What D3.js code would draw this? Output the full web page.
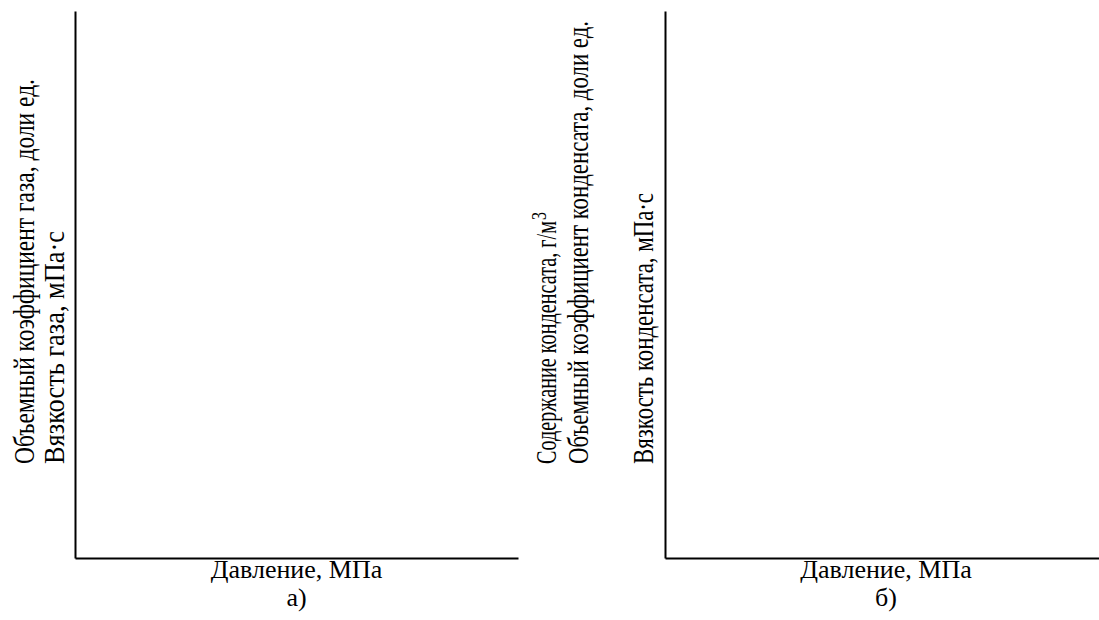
<!DOCTYPE html>
<html>
<head>
<meta charset="utf-8">
<script src="https://cdn.jsdelivr.net/npm/d3@7"></script>
<style>
  body { margin: 0; background: #fff; }
  svg { display: block; }
  .axis path { stroke: #000; stroke-width: 2; }
  text { font-family: "Liberation Serif", "DejaVu Serif", serif; fill: #000; }
</style>
</head>
<body>
<svg width="1099" height="620"></svg>
<script>
// two empty panels: a) gas, b) condensate
const panelLetters = ["а)", "б)"]
const xTitle = "Давление, МПа"
const labelsA = ["Объемный коэффициент газа, доли ед.", "Вязкость газа, мПа·с"]
const labelsB = ["Содержание конденсата, г/м", "Объемный коэффициент конденсата, доли ед.", "Вязкость конденсата, мПа·с"]
const superB = "3"

const svg = d3.select("svg")
const plotTop = 11, plotBottom = 558

// panel frames
const panels = [
  { x0: 75,  x1: 518,  labels: labelsA, base: [34, 64],       len: [385, 233] },
  { x0: 665, x1: 1099, labels: labelsB, base: [556, 588, 653], len: [243, 443, 271] }
]

panels.forEach((p, i) => {
  const x = d3.scaleLinear().domain([0, 1]).range([p.x0, p.x1])
  const y = d3.scaleLinear().domain([0, 1]).range([plotBottom, plotTop])

  svg.append("g").attr("class", "axis")
    .attr("transform", `translate(0,${plotBottom})`)
    .call(d3.axisBottom(x).tickValues([]).tickSizeOuter(0))
  svg.append("g").attr("class", "axis")
    .attr("transform", `translate(${p.x0},0)`)
    .call(d3.axisLeft(y).tickValues([]).tickSizeOuter(0))

  const cx = (p.x0 + p.x1) / 2 + (i ? 4 : 0)
  svg.append("text")
    .attr("x", cx).attr("y", 578)
    .attr("text-anchor", "middle")
    .style("font-size", "26px")
    .text(xTitle)
  svg.append("text")
    .attr("x", cx).attr("y", 606)
    .attr("text-anchor", "middle")
    .style("font-size", "26px")
    .text(panelLetters[i])

  // rotated y labels, squeezed along the line
  p.labels.forEach((t, j) => {
    svg.append("text")
      .attr("transform", `translate(${p.base[j]},464) rotate(-90)`)
      .attr("textLength", p.len[j])
      .attr("lengthAdjust", "spacingAndGlyphs")
      .style("font-size", "30px")
      .text(t)
  })
  if (i === 1) {
    svg.append("text")
      .attr("transform", `translate(${p.base[0] - 10},${463 - p.len[0]}) rotate(-90)`)
      .attr("textLength", 8)
      .attr("lengthAdjust", "spacingAndGlyphs")
      .style("font-size", "20px")
      .text(superB)
  }
})
</script>
</body>
</html>
